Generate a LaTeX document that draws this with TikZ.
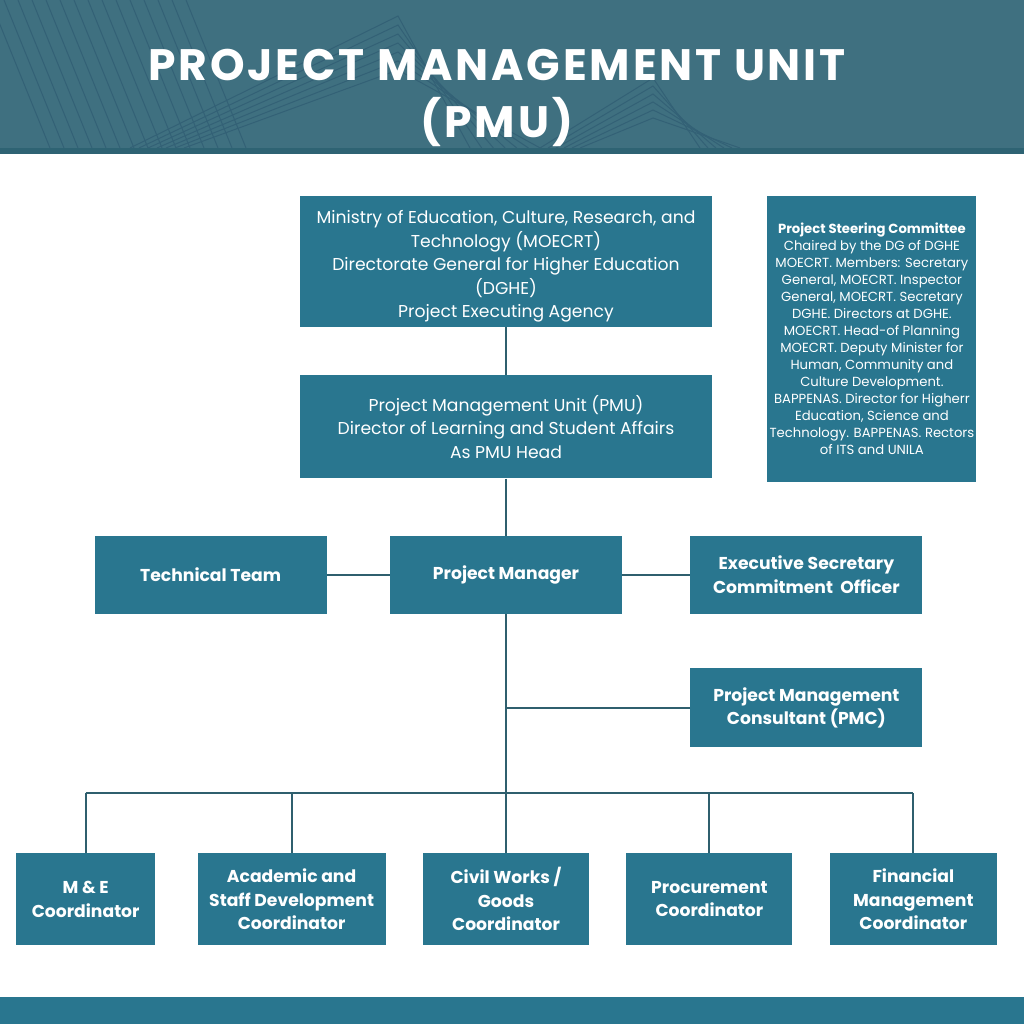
\documentclass[tikz,border=0pt]{standalone}
\usepackage{fontspec}
\setmainfont{Poppins}
\newfontfamily\titlefont[LetterSpace=6.5]{Poppins}
\usetikzlibrary{positioning}
\definecolor{boxteal}{HTML}{29768F}
\definecolor{headteal}{HTML}{3F7080}
\definecolor{headline}{HTML}{336176}
\definecolor{striptel}{HTML}{2E6373}
\definecolor{linkteal}{HTML}{2F5F6E}
\tikzset{
box/.style={fill=boxteal, text=white, inner sep=0pt, align=center}, % every unit of the chart
bold/.style={box, font=\fontsize{17.2}{23.5}\selectfont\bfseries},
plain/.style={box, font=\fontsize{17.2}{23.5}\selectfont},
link/.style={draw=linkteal, line width=2pt}, % connectors between units
}

\begin{document}
\begin{tikzpicture}[x=1pt, y=-1pt]
        \useasboundingbox (0,0) rectangle (1024,1024);
        % header band
        \fill[headteal] (0,0) rectangle (1024,148);
        \begin{scope}
            \clip (0,0) rectangle (1024,148);
            \foreach \d in {0,14,...,196}
                \draw[headline, line width=1pt] (\d-10,0) -- (\d+50,148);
            \foreach \d in {0,9,...,54}
                \draw[headline, line width=1pt] (130+\d,148) -- (398,16+\d) -- (470+\d*1.3,148);
            \foreach \d in {0,8,...,40}
                \draw[headline, line width=1pt] (540+\d,148) -- (653,78+\d) -- (700+\d,148);
        \end{scope}
        \fill[striptel] (0,148) rectangle (1024,154);
        \node[text=white, font=\fontsize{44}{57}\selectfont\bfseries\titlefont, align=center] (title) at (497,97.5)
            {PROJECT MANAGEMENT UNIT\\(PMU)};
        % footer band
        \fill[boxteal] (0,997) rectangle (1024,1024);

        % units
        \node[plain, minimum width=412pt, minimum height=131pt] (moe) at (506,261.5)
            {\rule{0pt}{23pt}Ministry of Education, Culture, Research, and\\Technology (MOECRT)\\Directorate General for Higher Education\\(DGHE)\\Project Executing Agency};
        \node[plain, minimum width=412pt, minimum height=103pt, below=48pt of moe] (pmu)
            {Project Management Unit (PMU)\\Director of Learning and Student Affairs\\As PMU Head};
        \node[box, minimum width=209pt, minimum height=286pt, font=\fontsize{13.2}{17}\selectfont, right=55pt of moe.north east, anchor=north west] (psc)
            {\textbf{Project Steering Committee}\\Chaired by the DG of DGHE\\MOECRT. Members: Secretary\\General, MOECRT. Inspector\\General, MOECRT. Secretary\\DGHE. Directors at DGHE.\\MOECRT. Head-of Planning\\MOECRT. Deputy Minister for\\Human, Community and\\Culture Development.\\BAPPENAS. Director for Higherr\\Education, Science and\\Technology. BAPPENAS. Rectors\\of ITS and UNILA};
        \node[bold, minimum width=232pt, minimum height=78pt, below=57pt of pmu] (pm) {Project Manager};
        \node[bold, minimum width=232pt, minimum height=78pt, left=63pt of pm] (tt) {Technical Team};
        \node[bold, minimum width=232pt, minimum height=78pt, right=68pt of pm] (exec) {Executive Secretary\\Commitment\ \ Officer};
        \node[bold, minimum width=232pt, minimum height=79pt, below=54pt of exec] (pmc) {Project Management\\Consultant (PMC)};

        \node[bold, minimum width=166pt, minimum height=92pt, below=239pt of pm] (civil) {Civil Works /\\Goods\\Coordinator};
        \node[bold, minimum width=188pt, minimum height=92pt, left=37pt of civil] (acad) {Academic and\\Staff Development\\Coordinator};
        \node[bold, minimum width=139pt, minimum height=92pt, left=42pt of acad] (me) {M \& E\\Coordinator};
        \node[bold, minimum width=166pt, minimum height=92pt, right=37pt of civil] (proc) {Procurement\\Coordinator};
        \node[bold, minimum width=167pt, minimum height=92pt, right=37pt of proc] (fin) {Financial\\Management\\Coordinator};
        \coordinate (bus) at (506,793);

        % connectors
        \draw[link] (moe) -- (pmu);
        \draw[link] (pmu) -- (pm);
        \draw[link] (tt) -- (pm);
        \draw[link] (pm) -- (exec);
        \draw[link] (pm) -- (civil);
        \draw[link] (pmc.west) -- (pmc.west -| pm.south);
        \draw[link] (me.north |- bus) -- (fin.north |- bus);
        \draw[link] (me.north) -- (me.north |- bus);
        \draw[link] (acad.north) -- (acad.north |- bus);
        \draw[link] (proc.north) -- (proc.north |- bus);
        \draw[link] (fin.north) -- (fin.north |- bus);

    \end{tikzpicture}
\end{document}
